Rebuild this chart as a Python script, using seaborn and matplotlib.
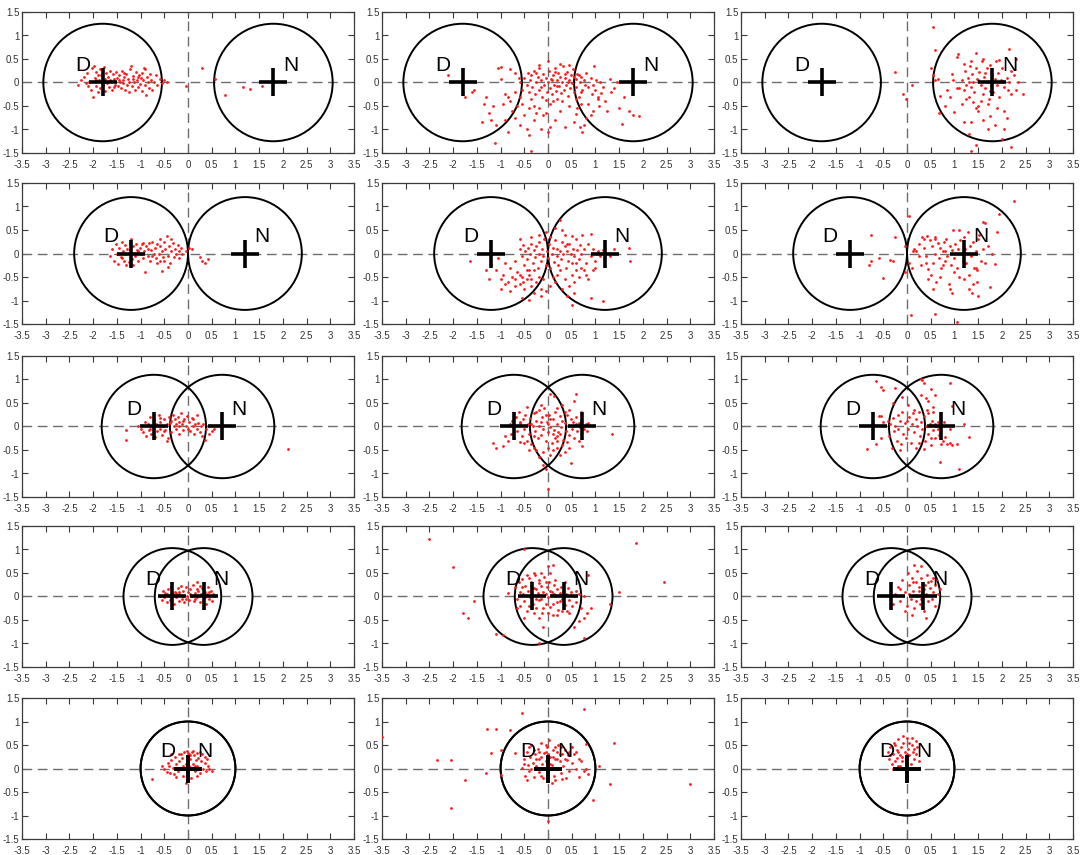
import numpy as np
import matplotlib
matplotlib.use("Agg")
import matplotlib.pyplot as plt
from matplotlib.patches import Circle
import seaborn as sns

# Centre offsets of the D / N classes (D at -offset, N at +offset) and circle radii per row
center_offset = [1.8, 1.2, 0.72, 0.33, 0.0]
circle_radius = [1.25, 1.2, 1.1, 1.03, 1.0]

x_ticks = [-3.5, -3, -2.5, -2, -1.5, -1, -0.5, 0, 0.5, 1, 1.5, 2, 2.5, 3, 3.5]
x_tick_labels = ["-3.5", "-3", "-2.5", "-2", "-1.5", "-1", "-0.5", "0",
                 "0.5", "1", "1.5", "2", "2.5", "3", "3.5"]
y_ticks = [-1.5, -1, -0.5, 0, 0.5, 1, 1.5]
y_tick_labels = ["-1.5", "-1", "-0.5", "0", "0.5", "1", "1.5"]

# Projected samples, one list of (x, y) per panel
pts_r1_c1 = [(-2.32,-0.06),(-2.25,0.05),(-2.2,0.12),(-2.15,-0.02),(-2.12,0.2),(-2.08,0.0),(-2.05,-0.15),
    (-2.02,0.3),(-2.0,-0.31),(-1.98,0.36),(-1.97,0.1),(-1.95,-0.08),(-1.93,0.22),(-1.9,-0.2),(-1.88,0.05),
    (-1.86,0.28),(-1.85,-0.12),(-1.83,0.15),(-1.8,-0.05),(-1.78,0.32),(-1.76,0.08),(-1.74,-0.18),(-1.72,0.2),
    (-1.7,-0.02),(-1.68,0.12),(-1.66,-0.1),(-1.64,0.24),(-1.62,0.04),(-1.6,-0.15),(-1.58,0.18),(-1.56,0.08),
    (-1.54,-0.05),(-1.52,0.22),(-1.5,0.1),(-1.48,-0.08),(-1.46,0.15),(-1.44,0.02),(-1.42,-0.12),(-1.4,0.25),
    (-1.38,0.06),(-1.36,-0.02),(-1.34,0.12),(-1.32,-0.16),(-1.3,0.18),(-1.28,-0.05),(-1.26,0.08),(-1.24,-0.2),
    (-1.22,0.28),(-1.2,0.36),(-1.18,-0.08),(-1.16,0.14),(-1.14,0.0),(-1.12,-0.15),(-1.1,0.22),(-1.08,0.05),
    (-1.06,-0.1),(-1.04,0.16),(-1.02,-0.03),(-1.0,0.1),(-0.98,-0.18),(-0.96,0.2),(-0.94,0.06),(-0.92,0.3),
    (-0.9,0.28),(-0.9,-0.05),(-0.88,-0.27),(-0.86,0.12),(-0.84,0.0),(-0.82,-0.12),(-0.8,0.18),(-0.78,0.05),
    (-0.75,-0.15),(-0.72,0.02),(-0.68,0.15),(-0.65,-0.05),(-0.6,0.08),(-0.55,-0.02),(-0.5,0.05),(-0.45,0.0),
    (-1.9,0.15),(-1.75,0.0),(-1.65,0.05),(-1.55,-0.1),(-1.45,0.05),(-1.35,0.2),(-1.25,0.0),(-1.15,0.08),
    (-1.05,0.12),(-2.1,-0.08),(-1.95,0.05),
    (-0.05,-0.07),(0.3,0.3),(0.57,0.07),(0.78,-0.27),(1.17,-0.1),(1.3,-0.13),(1.55,-0.08)]

pts_r1_c2 = [(-0.5,0.1),(-0.45,-0.05),(-0.42,0.2),(-0.4,-0.2),(-0.38,0.05),(-0.35,0.15),(-0.33,-0.1),
    (-0.3,0.25),(-0.28,-0.25),(-0.25,0.0),(-0.22,0.12),(-0.2,-0.15),(-0.18,0.3),(-0.15,0.05),(-0.12,-0.3),
    (-0.1,0.18),(-0.08,-0.05),(-0.05,0.1),(-0.03,-0.2),(0.0,0.0),(0.02,0.25),(0.04,-0.12),(0.06,0.08),
    (0.08,-0.25),(0.1,0.15),(0.12,-0.05),(0.14,0.3),(0.16,-0.18),(0.18,0.05),(0.2,-0.35),(0.22,0.2),
    (0.24,-0.08),(0.26,0.12),(0.28,-0.22),(0.3,0.02),(0.32,0.35),(0.34,-0.15),(0.36,0.1),(0.38,-0.05),
    (0.4,0.22),(0.42,-0.28),(0.44,0.05),(0.46,-0.12),(0.48,0.15),(0.5,-0.02),(0.52,0.28),(0.55,-0.2),
    (0.58,0.08),(0.6,-0.1),(0.62,0.18),(0.65,-0.3),(0.68,0.0),(0.7,0.12),(0.72,-0.15),(0.75,0.05),
    (0.78,-0.05),(0.8,0.2),(-0.35,-0.35),(-0.2,0.38),(0.0,0.45),(0.1,-0.4),(0.25,0.4),(0.45,0.38),
    (-0.6,0.0),(-0.55,-0.15),(-0.62,0.1),(0.05,-0.45),(0.15,0.22),(-0.05,-0.38),(0.3,-0.4),(0.55,0.12),
    (0.35,0.18),(-0.15,-0.1),(0.18,-0.08),(0.08,0.05),(-0.25,0.2),(0.42,0.02),(0.65,0.15),(0.7,-0.2),
    (0.85,-0.1),(0.9,0.1),(0.92,-0.25),(0.95,-0.05),(0.98,0.35),(1.0,-0.15),(1.02,0.05),(1.05,-0.35),
    (1.08,-0.5),(1.1,0.0),(1.12,-0.22),(1.15,-0.1),(1.2,-0.4),(1.25,-0.6),(1.3,0.08),(1.32,-0.2),
    (1.4,-0.12),(1.45,0.0),(1.5,-0.55),(1.6,-0.3),(1.7,-0.6),(1.8,-0.7),(1.92,-0.72),(1.55,-0.88),
    (0.9,-0.7),(0.8,-0.75),(0.75,-0.9),(0.72,-1.05),(0.68,-0.95),(0.85,-0.45),(0.95,-0.6),(1.05,-0.3),
    (0.62,-0.55),(0.7,-0.45),(0.58,-0.35),(0.6,-0.68),(0.35,-0.95),(0.25,-0.6),(0.15,-0.8),(0.05,-0.95),
    (0.0,-1.05),(-0.05,-0.65),(0.45,-0.5),(0.55,-0.85),
    (-0.55,-0.45),(-0.6,-0.3),(-0.65,-0.5),(-0.7,-0.2),(-0.75,-0.6),(-0.8,-0.4),(-0.85,-0.3),(-0.9,-0.25),
    (-0.95,-0.45),(-1.0,0.08),(-1.05,0.3),(-1.1,-0.9),(-1.15,-0.5),(-1.2,-0.8),(-1.25,-0.65),(-1.3,-0.3),
    (-1.35,-0.45),(-1.4,-0.85),(-1.12,-1.28),(-0.9,-0.8),(-0.85,-1.05),(-0.7,-0.75),(-0.6,-0.9),(-0.5,-0.7),
    (-0.45,-1.0),(-0.4,-1.12),(-0.35,-1.45),(-0.3,-0.8),(-0.2,-0.55),(-0.15,-1.0),(-0.1,-0.7),(-0.4,-0.55),
    (-0.3,-0.5),(-0.25,-0.65),(-1.0,0.32),(-0.8,0.28),(-0.7,0.2),(-1.6,-0.2),(-1.75,-0.3),(-2.1,0.15),
    (-1.55,-0.15)]

pts_r1_c3 = [(-0.25,0.22),(0.1,-0.05),(-0.08,-0.25),(-0.02,-0.35),(0.55,1.18),(0.6,0.7),(0.5,0.3),
    (0.55,0.15),(0.6,0.05),(0.65,0.08),(0.68,-0.65),(0.7,-0.28),(0.8,-0.5),(0.85,-0.15),(0.9,-0.3),
    (0.95,0.18),(1.05,0.55),(1.08,0.6),(1.0,-0.62),(1.2,-0.85),(1.35,-0.85),(1.3,-1.1),(1.35,-1.45),
    (1.45,-1.32),(1.7,-1.0),(1.85,-0.9),(2.0,-1.2),(2.05,-0.6),(2.1,-0.75),(2.2,-1.38),(2.05,-0.98),
    (1.75,-0.72),(2.15,0.72),(2.3,0.5),(2.35,0.02),(2.45,-0.25),(2.2,-0.25),
    (1.1,-0.12),(1.15,0.05),(1.2,-0.15),(1.22,0.25),(1.25,-0.05),(1.28,0.1),(1.3,-0.3),(1.32,0.35),
    (1.35,-0.1),(1.38,0.18),(1.4,0.0),(1.42,-0.2),(1.45,0.3),(1.48,0.08),(1.5,-0.5),(1.52,0.22),
    (1.55,-0.05),(1.58,0.45),(1.6,-0.25),(1.62,0.12),(1.65,-0.12),(1.68,0.3),(1.7,0.02),(1.72,-0.35),
    (1.75,0.38),(1.78,-0.08),(1.8,0.15),(1.82,-0.2),(1.85,0.08),(1.88,0.45),(1.9,-0.05),(1.92,0.2),
    (1.95,-0.3),(1.98,0.05),(2.0,0.3),(2.05,-0.1),(2.1,0.1),(2.12,-0.15),(2.15,0.0),(2.2,0.25),
    (1.45,-0.55),(1.55,-0.4),(1.35,0.45),(1.6,0.5),(1.25,-0.35),(1.4,-0.42),(1.7,-0.45),(1.95,0.48),
    (1.65,0.2),(1.75,-0.18),(1.5,0.05),(1.3,0.0),(1.2,0.4),(1.15,-0.45),(1.05,-0.12),(0.98,0.05),
    (1.45,0.62),(1.9,-0.55),(2.3,-0.15),(1.6,-0.8),(1.5,-0.6),(2.25,0.15)]

pts_r2_c1 = [(-1.65,-0.05),(-1.6,0.1),(-1.55,-0.15),(-1.52,0.2),(-1.5,0.0),(-1.48,-0.22),(-1.45,0.12),
    (-1.42,-0.08),(-1.4,0.25),(-1.38,0.05),(-1.35,-0.15),(-1.32,0.18),(-1.3,-0.02),(-1.28,0.1),(-1.25,-0.18),
    (-1.22,0.22),(-1.2,0.0),(-1.18,-0.12),(-1.15,0.15),(-1.12,-0.05),(-1.1,0.2),(-1.08,0.08),(-1.05,-0.15),
    (-1.02,0.12),(-1.0,-0.02),(-0.98,0.2),(-0.95,-0.1),(-0.92,0.05),(-0.9,-0.4),(-0.88,0.15),(-0.85,-0.05),
    (-0.82,0.22),(-0.8,-0.15),(-0.78,0.08),(-0.75,0.25),(-0.72,-0.02),(-0.7,0.12),(-0.68,-0.1),(-0.65,0.2),
    (-0.62,0.0),(-0.6,-0.15),(-0.58,0.15),(-0.55,0.05),(-0.52,-0.08),(-0.5,0.25),(-0.48,0.1),(-0.45,0.38),
    (-0.42,-0.05),(-0.4,0.15),(-0.38,-0.2),(-0.35,0.05),(-0.32,0.22),(-0.3,-0.08),(-0.28,0.1),(-0.25,0.0),
    (-0.22,0.18),(-0.2,-0.1),(-0.18,0.05),(-0.15,0.12),(-0.12,-0.02),(-0.42,-0.28),(-0.55,-0.38),
    (-0.65,-0.2),(-0.95,0.22),(-1.3,-0.25),(-1.2,0.3),(-0.75,-0.05),(-0.85,0.1),(-1.05,0.05),(-1.4,-0.1),
    (-0.6,0.3),(-0.35,0.3),(-1.15,-0.25),(-0.5,-0.15),
    (-0.05,0.05),(0.02,0.12),(0.08,0.1),(0.25,-0.08),(0.3,-0.15),(0.35,-0.2),(0.42,-0.12)]

pts_r2_c2 = [(-0.6,0.1),(-0.55,-0.05),(-0.52,0.18),(-0.5,-0.25),(-0.48,0.05),(-0.45,-0.12),(-0.42,0.12),
    (-0.4,-0.35),(-0.38,0.0),(-0.35,0.2),(-0.32,-0.2),(-0.3,0.08),(-0.28,-0.08),(-0.25,0.15),(-0.22,-0.3),
    (-0.2,0.0),(-0.18,0.25),(-0.15,-0.15),(-0.12,0.1),(-0.1,-0.05),(-0.08,0.3),(-0.05,-0.25),(-0.02,0.05),
    (0.0,-0.1),(0.02,0.2),(0.05,-0.3),(0.08,0.0),(0.1,0.12),(0.12,-0.18),(0.15,0.28),(0.18,-0.05),
    (0.2,0.1),(0.22,-0.25),(0.25,0.05),(0.28,-0.12),(0.3,0.25),(0.32,-0.02),(0.35,0.15),(0.38,-0.3),
    (0.4,0.05),(0.42,-0.15),(0.45,0.2),(0.48,0.0),(0.5,-0.2),(0.52,0.1),(0.55,-0.05),(0.58,0.3),
    (0.6,-0.35),(0.62,0.08),(0.65,-0.12),(0.68,0.18),(0.7,-0.02),(-0.05,0.45),(0.05,0.35),(0.25,0.72),
    (0.15,0.55),(-0.2,0.4),(-0.35,0.35),(0.35,0.4),(0.5,0.38),(-0.6,0.3),
    (-0.65,-0.4),(-0.7,-0.15),(-0.75,-0.5),(-0.8,-0.3),(-0.85,-0.6),(-0.9,-0.2),(-0.95,-0.45),(-1.0,-0.55),
    (-1.05,-0.1),(-1.1,-0.35),(-1.25,-0.55),(-1.3,-0.35),(-1.2,-0.25),(-1.65,-0.15),(-0.6,-0.65),
    (-0.55,-0.5),(-0.5,-0.75),(-0.45,-0.55),(-0.4,-0.45),(-0.35,-0.7),(-0.3,-0.85),(-0.25,-0.6),(-0.2,-0.5),
    (-0.15,-0.75),(-0.1,-0.55),(-0.3,-0.35),(-0.45,-0.35),(-0.7,-0.7),(-0.8,-0.8),(-0.55,-0.95),(-0.4,-0.98),
    (-0.15,-0.9),(-0.05,-0.8),(-0.6,-0.45),(-0.52,-0.6),(-0.7,-0.55),(-0.35,-0.55),(-0.9,-0.65),(-1.0,-0.75),
    (0.75,0.1),(0.8,-0.2),(0.85,0.2),(0.9,-0.05),(0.95,0.1),(1.0,-0.15),(1.05,0.05),(1.1,-0.05),(1.15,0.08),
    (1.2,0.0),(1.3,-0.05),(1.4,0.1),(0.9,0.42),(1.0,-0.3),(0.95,-0.35),(1.7,0.12),(1.72,-0.15),(0.75,-0.35),
    (0.65,-0.5),(0.55,-0.6),(0.5,-0.45),(0.45,-0.7),(0.35,-0.55),(0.2,-0.45),(0.15,-0.6),(0.1,-0.5),
    (0.05,-0.7),(0.3,-0.75),(0.85,-0.55),(0.9,-0.95),(1.15,-1.0),(0.5,-1.1),(0.55,-0.85),(0.4,-0.9),
    (0.6,-0.2),(0.7,-0.3),(0.25,-0.35),(0.8,-0.45),(0.72,0.4),(0.3,0.5),(0.4,0.2)]

pts_r2_c3 = [(-0.8,-0.25),(-0.75,0.4),(-0.75,-0.15),(-0.6,-0.1),(-0.5,-0.52),(-0.35,-0.13),(-0.3,-0.15),
    (-0.25,0.35),(-0.05,0.15),(-0.05,-0.4),(0.05,0.8),(0.05,-0.2),(0.08,-1.3),(0.1,-0.3),(0.12,0.05),
    (0.15,0.1),(2.25,1.12),(1.95,0.85),(1.65,0.65),(1.6,0.68),(1.9,0.45),(1.05,-1.45),(0.6,-1.28),
    (1.85,-0.22),(1.8,-0.02),
    (0.2,0.05),(0.25,0.2),(0.3,-0.25),(0.32,0.35),(0.35,0.12),(0.4,-0.05),(0.42,0.38),(0.45,-0.32),
    (0.48,0.28),(0.5,-0.45),(0.52,0.15),(0.55,-0.2),(0.58,0.35),(0.6,0.0),(0.62,-0.6),(0.65,0.22),
    (0.68,-0.1),(0.7,0.12),(0.72,-0.3),(0.75,0.05),(0.78,0.25),(0.8,-0.15),(0.82,0.3),(0.85,-0.05),
    (0.88,-0.65),(0.9,0.15),(0.92,-0.25),(0.95,0.08),(0.98,0.5),(1.0,-0.1),(1.02,0.2),(1.05,-0.3),
    (1.08,0.1),(1.1,-0.5),(1.12,0.28),(1.15,0.0),(1.18,-0.15),(1.2,0.35),(1.22,0.1),(1.25,-0.2),
    (1.28,0.45),(1.3,-0.45),(1.32,0.15),(1.35,-0.05),(1.38,-0.85),(1.4,0.25),(1.42,-0.3),(1.45,0.05),
    (1.48,-0.6),(1.5,0.3),(1.52,0.4),(1.55,-0.15),(1.6,0.1),(1.65,-0.2),(1.7,0.15),(1.75,-0.72),
    (1.5,-0.9),(1.3,-0.75),(1.4,-0.65),(0.95,-0.85),(0.9,-0.75),(0.7,-0.5),(0.55,-0.75),(0.45,-0.55),
    (0.75,-0.25),(1.0,-0.4),(1.2,-0.55),(0.6,0.3),(0.8,0.05),(1.1,0.5),(0.35,0.3),(0.25,-0.05),
    (0.4,-0.2),(1.45,-0.3),(1.48,-0.35)]

pts_r3_c1 = [(-1.3,-0.28),(-1.3,-0.07),(-1.05,0.0),(-1.0,-0.05),(-0.95,-0.12),(-0.9,0.1),(-0.88,-0.2),
    (-0.85,0.05),(-0.82,-0.08),(-0.8,0.2),(-0.78,-0.15),(-0.75,0.0),(-0.72,0.15),(-0.7,-0.22),(-0.68,0.05),
    (-0.65,-0.1),(-0.62,0.25),(-0.6,-0.05),(-0.58,0.1),(-0.55,-0.18),(-0.52,0.0),(-0.5,0.15),(-0.48,-0.08),
    (-0.45,0.05),(-0.42,-0.25),(-0.4,0.2),(-0.38,0.08),(-0.35,-0.12),(-0.32,0.25),(-0.3,0.0),(-0.28,0.15),
    (-0.25,-0.05),(-0.22,0.2),(-0.2,0.1),(-0.18,-0.15),(-0.15,0.28),(-0.12,0.05),(-0.1,-0.08),(-0.08,0.15),
    (-0.05,0.0),(-0.02,0.22),(0.0,-0.05),(0.02,0.1),(0.05,-0.1),(0.08,0.18),(0.1,0.0),(0.12,-0.15),
    (0.15,0.05),(0.18,0.25),(0.2,-0.05),(0.22,0.08),(0.25,-0.12),(0.28,0.02),(0.3,-0.2),(0.32,0.05),
    (0.35,-0.28),(0.38,-0.05),(0.42,0.0),(0.45,-0.15),(0.5,-0.1),(0.55,-0.05),(-0.45,-0.3),(-0.6,0.18),
    (-0.25,0.05),(-0.1,0.12),(0.1,0.15),(-0.35,0.12),(-0.18,0.02),(-0.8,-0.05),(-0.5,-0.1),(2.1,-0.48)]

pts_r3_c2 = [(-1.15,-0.35),(-1.1,-0.45),(-0.95,-0.42),(-0.9,-0.2),(-0.85,-0.3),(-0.8,0.05),(-0.78,-0.15),
    (-0.75,0.12),(-0.72,-0.25),(-0.7,0.0),(-0.68,0.2),(-0.65,-0.1),(-0.62,0.3),(-0.6,-0.32),(-0.58,0.08),
    (-0.55,-0.2),(-0.52,0.15),(-0.5,-0.05),(-0.48,0.25),(-0.45,-0.3),(-0.42,0.05),(-0.4,-0.15),(-0.38,0.18),
    (-0.35,-0.38),(-0.32,0.0),(-0.3,0.28),(-0.28,-0.1),(-0.25,0.12),(-0.22,-0.25),(-0.2,0.35),(-0.18,0.02),
    (-0.15,-0.18),(-0.12,0.2),(-0.1,-0.05),(-0.08,0.4),(-0.05,-0.3),(-0.02,0.1),(0.0,-0.12),(0.02,0.25),
    (0.05,-0.02),(0.08,-0.35),(0.1,0.15),(0.12,-0.08),(0.15,0.3),(0.18,-0.2),(0.2,0.05),(0.22,-0.12),
    (0.25,0.22),(0.28,-0.02),(0.3,0.12),(0.32,-0.28),(0.35,0.08),(0.38,-0.1),(0.4,0.25),(0.42,0.0),
    (0.45,-0.18),(0.48,0.15),(0.5,-0.05),(0.52,0.1),(0.55,-0.25),(0.58,0.05),(0.6,0.2),(0.62,-0.1),
    (0.65,0.08),(0.68,-0.02),(0.7,0.12),(0.75,-0.05),(0.8,0.05),(0.82,-0.1),(0.85,0.08),(1.35,-0.15),
    (0.72,-0.42),(0.55,0.55),(0.12,0.65),(0.05,0.7),(0.6,0.7),(0.3,0.45),(-0.15,0.45),(-0.45,0.42),
    (-0.25,-0.5),(-0.2,-0.65),(-0.1,-0.55),(0.0,-0.45),(0.05,-0.6),(0.1,-0.5),(0.2,-0.45),(0.25,-0.6),
    (0.3,-0.4),(0.35,-0.55),(0.45,-0.45),(0.48,-0.78),(-0.05,-0.9),(-0.1,-0.82),(0.0,-1.32),(-0.3,-0.45),
    (-0.4,-0.5),(0.4,-0.32),(-0.5,-0.35),(0.15,-0.25),(-0.35,0.05),(-0.15,0.1),(0.05,0.15),(0.25,-0.15),
    (0.35,0.3),(-0.05,0.25),(0.18,0.4),(-0.3,-0.2),(0.1,-0.15),(0.45,0.35),(-0.6,0.1),(0.65,-0.3),
    (0.7,0.3),(-0.25,0.3),(0.0,0.05),(0.2,-0.3)]

pts_r3_c3 = [(-0.85,-0.47),(-0.65,0.97),(-0.55,0.85),(-0.5,0.78),(-0.65,-0.38),(-0.6,0.22),(-0.55,0.22),
    (-0.5,0.1),(-0.55,-0.25),(-0.25,0.82),(-0.3,0.5),(-0.1,0.62),(0.3,1.0),(0.32,0.98),(0.35,0.92),
    (0.5,0.8),(0.6,0.68),(0.45,0.55),(0.55,0.42),(0.9,0.92),(0.95,0.43),(1.3,-0.22),(1.1,-0.9),
    (0.7,-0.75),(0.9,-0.35),
    (-0.4,0.12),(-0.38,-0.2),(-0.35,0.05),(-0.32,-0.45),(-0.3,0.18),(-0.28,-0.1),(-0.25,0.0),(-0.22,-0.3),
    (-0.2,0.25),(-0.18,-0.05),(-0.15,0.12),(-0.12,-0.38),(-0.1,0.3),(-0.08,-0.15),(-0.05,0.08),(-0.02,-0.25),
    (0.0,0.12),(0.02,-0.05),(0.05,0.2),(0.08,-0.35),(0.1,0.05),(0.12,0.28),(0.15,-0.12),(0.18,0.15),
    (0.2,-0.45),(0.22,0.02),(0.25,0.3),(0.28,-0.2),(0.3,0.1),(0.32,-0.05),(0.35,0.22),(0.38,-0.3),
    (0.4,0.0),(0.42,0.35),(0.45,-0.15),(0.48,0.05),(0.5,-0.4),(0.52,0.12),(0.55,-0.08),(0.58,0.02),
    (0.6,-0.25),(0.62,0.0),(0.65,-0.05),(0.68,-0.18),(0.7,0.08),(0.72,-0.38),(0.75,-0.3),(0.78,0.1),
    (0.8,-0.22),(0.85,-0.38),(0.9,-0.05),(0.95,-0.4),(1.05,-0.38),(1.2,0.05),(0.6,0.05),(0.65,0.1),
    (0.55,0.3),(0.45,0.28),(0.15,0.35),(-0.15,-0.5),(0.02,0.45),(0.35,-0.48),(0.25,-0.35),(0.5,-0.25),
    (0.4,0.6),(0.3,0.68)]

pts_r4_c1 = [(-0.6,0.02),(-0.55,-0.08),(-0.52,0.12),(-0.5,-0.02),(-0.48,0.08),(-0.45,-0.12),(-0.42,0.15),
    (-0.4,0.0),(-0.38,-0.08),(-0.35,0.2),(-0.32,0.05),(-0.3,-0.15),(-0.28,0.1),(-0.25,-0.02),(-0.22,0.18),
    (-0.2,-0.1),(-0.18,0.06),(-0.15,0.22),(-0.12,-0.05),(-0.1,0.12),(-0.08,-0.12),(-0.05,0.2),(-0.02,0.02),
    (0.0,0.1),(0.02,-0.08),(0.05,0.15),(0.08,0.0),(0.1,0.25),(0.12,-0.1),(0.15,0.08),(0.18,0.3),
    (0.2,-0.02),(0.22,0.12),(0.25,-0.12),(0.28,0.05),(0.3,0.18),(0.32,-0.08),(0.35,0.1),(0.38,-0.15),
    (0.4,0.05),(0.42,0.2),(0.45,-0.05),(0.48,0.12),(0.5,-0.1),(0.52,0.05),(0.55,0.0),(-0.35,-0.05),
    (-0.2,0.1),(-0.05,-0.05),(0.15,-0.05),(0.25,0.22),(0.35,-0.02),(-0.45,0.05),(0.05,0.05),(-0.25,0.08),
    (0.45,0.1),(0.2,0.15),(-0.1,0.02)]

pts_r4_c2 = [(-2.5,1.23),(-2.0,0.63),(-1.55,-0.1),(-1.8,-0.35),(-1.68,-0.45),(-1.1,-0.8),(-0.95,-0.82),
    (-0.5,1.02),(-0.85,0.08),(-0.2,-1.0),(0.1,0.68),(0.0,0.65),(1.85,1.13),(2.45,0.3),(1.5,0.1),
    (1.3,-0.15),(0.85,0.45),(0.9,-0.25),(0.82,-0.35),(0.75,-0.45),(0.65,-0.52),(0.75,-0.88),(0.55,-0.65),
    (-0.1,-0.65),(-0.5,-0.45),
    (-0.7,0.2),(-0.65,-0.05),(-0.62,0.3),(-0.6,0.1),(-0.58,-0.2),(-0.55,0.38),(-0.52,0.05),(-0.5,-0.1),
    (-0.48,0.22),(-0.45,-0.3),(-0.42,0.12),(-0.4,0.4),(-0.38,-0.02),(-0.35,0.3),(-0.32,-0.15),(-0.3,0.18),
    (-0.28,0.45),(-0.25,-0.25),(-0.22,0.08),(-0.2,0.35),(-0.18,-0.08),(-0.15,0.22),(-0.12,-0.35),(-0.1,0.1),
    (-0.08,0.42),(-0.05,-0.15),(-0.02,0.2),(0.0,-0.02),(0.02,0.3),(0.05,-0.22),(0.08,0.1),(0.1,-0.4),
    (0.12,0.25),(0.15,0.0),(0.18,-0.12),(0.2,0.15),(0.22,-0.28),(0.25,0.08),(0.28,0.2),(0.3,-0.05),
    (0.32,0.12),(0.35,-0.18),(0.38,0.05),(0.4,-0.3),(0.42,0.18),(0.45,-0.08),(0.48,0.1),(0.5,-0.2),
    (0.55,0.02),(0.6,-0.12),(0.65,0.05),(0.7,-0.25),(0.75,0.0),(-0.35,0.0),(-0.25,0.15),(-0.15,-0.05),
    (-0.05,0.05),(0.05,0.12),(0.15,0.35),(0.25,-0.1),(-0.3,-0.35),(-0.2,-0.45),(-0.1,-0.25),(0.0,-0.35),
    (0.1,-0.15),(-0.4,-0.2),(-0.45,0.45),(-0.3,0.5),(-0.15,0.5),(0.05,0.5),(-0.55,0.2),(0.2,-0.4),
    (0.3,-0.3),(0.45,-0.35),(-0.65,-0.25),(-0.05,0.3),(-0.35,0.22),(0.35,0.3),(-0.25,-0.05),(0.12,0.05),
    (-0.18,0.28),(0.6,0.12)]

pts_r4_c3 = [(-0.25,0.05),(-0.2,0.2),(-0.15,-0.1),(-0.1,0.35),(-0.05,0.1),(0.0,-0.2),(0.02,0.5),
    (0.05,0.25),(0.08,-0.05),(0.1,0.4),(0.12,0.12),(0.15,-0.25),(0.18,0.3),(0.2,0.0),(0.22,0.55),
    (0.25,0.2),(0.28,-0.15),(0.3,0.4),(0.32,0.08),(0.35,-0.3),(0.38,0.25),(0.4,0.05),(0.42,0.45),
    (0.45,-0.1),(0.48,0.18),(0.5,0.32),(0.52,-0.05),(0.55,0.1),(0.58,0.25),(0.6,-0.2),(0.65,0.05),
    (0.7,0.15),(0.15,0.68),(0.3,0.65),(-0.05,-0.3),(0.1,-0.4),(0.4,-0.45),(0.25,0.12),(0.12,0.3),
    (0.35,0.15),(-0.15,0.15),(0.05,0.05),(0.45,0.3),(0.2,-0.1),(0.55,0.4),(-0.3,-0.15),(0.62,0.35),
    (0.3,-0.05)]

pts_r5_c1 = [(-0.75,-0.22),(-0.55,0.05),(-0.5,0.0),(-0.45,-0.08),(-0.42,0.12),(-0.4,0.05),(-0.38,-0.1),
    (-0.35,0.18),(-0.32,0.02),(-0.3,-0.12),(-0.28,0.25),(-0.25,0.1),(-0.22,-0.05),(-0.2,0.3),(-0.18,0.15),
    (-0.15,0.0),(-0.12,0.22),(-0.1,-0.15),(-0.08,0.35),(-0.05,0.1),(-0.03,0.38),(-0.02,0.25),(0.0,0.32),
    (0.02,0.05),(0.03,0.3),(0.05,0.2),(0.06,-0.2),(0.08,0.35),(0.1,0.1),(0.12,0.28),(0.14,-0.05),
    (0.16,0.18),(0.18,0.32),(0.2,0.05),(0.22,0.22),(0.25,-0.1),(0.28,0.15),(0.3,0.3),(0.32,0.0),
    (0.35,0.12),(0.38,-0.05),(0.4,0.2),(0.42,0.05),(0.45,-0.02),(0.5,-0.05),(-0.05,-0.3),(0.0,-0.22),
    (-0.15,0.3),(0.1,0.38),(-0.02,0.15),(0.15,0.05),(-0.25,-0.18),(0.2,-0.15),(-0.35,0.3),(0.25,0.35),
    (-0.1,0.05),(0.05,0.28),(0.35,0.25)]

pts_r5_c2 = [(-3.5,0.68),(-2.35,0.18),(-2.05,0.18),(-2.05,-0.83),(-1.75,-0.25),(-1.3,-0.1),(-1.28,0.83),
    (-1.1,0.85),(-0.8,0.82),(-1.2,0.32),(-1.0,0.4),(-1.0,-0.13),(-0.7,0.32),(-0.55,1.18),(-0.5,0.1),
    (0.75,1.27),(0.8,0.52),(1.4,0.55),(1.08,0.05),(1.3,-0.32),(0.95,-0.67),(3.0,-0.32),(0.0,-1.12),
    (0.8,0.0),(0.85,-0.12),(0.65,-0.18),
    (-0.55,0.02),(-0.5,0.2),(-0.48,-0.15),(-0.45,0.35),(-0.42,0.08),(-0.4,-0.05),(-0.38,0.25),(-0.35,0.5),
    (-0.32,0.12),(-0.3,-0.18),(-0.28,0.3),(-0.25,0.05),(-0.22,0.42),(-0.2,-0.08),(-0.18,0.2),(-0.15,0.55),
    (-0.12,0.1),(-0.1,-0.2),(-0.08,0.32),(-0.05,0.15),(-0.02,0.45),(0.0,-0.05),(0.02,0.6),(0.05,0.25),
    (0.08,0.08),(0.1,0.4),(0.12,-0.15),(0.15,0.2),(0.18,0.35),(0.2,0.0),(0.22,0.5),(0.25,0.15),
    (0.28,-0.1),(0.3,0.3),(0.32,0.05),(0.35,0.4),(0.38,-0.2),(0.4,0.18),(0.42,0.28),(0.45,-0.05),
    (0.5,0.12),(0.55,0.3),(0.6,0.0),(0.65,0.2),(0.7,0.15),(0.75,-0.05),(-0.15,0.25),(-0.05,0.35),
    (0.05,0.1),(0.15,0.45),(-0.25,0.2),(-0.35,0.0),(0.25,0.3),(-0.1,0.0),(0.0,0.2),(0.1,0.25),(0.2,0.2),
    (-0.2,0.35),(0.3,-0.22),(0.35,0.2),(-0.4,0.45),(0.45,0.35),(0.15,-0.25),(-0.15,-0.15),(0.28,0.45),
    (-0.3,0.4),(0.0,0.3),(0.08,-0.3),(-0.05,0.5),(0.5,0.45),(0.6,0.35),(-0.45,-0.25)]

pts_r5_c3 = [(-0.4,0.35),(-0.38,0.2),(-0.35,0.45),(-0.32,0.1),(-0.3,0.3),(-0.28,0.55),(-0.25,0.15),
    (-0.22,0.4),(-0.2,0.05),(-0.18,0.62),(-0.15,0.28),(-0.12,0.45),(-0.1,0.15),(-0.08,0.55),(-0.05,0.35),
    (-0.02,0.2),(0.0,0.65),(0.02,0.42),(0.05,0.28),(0.08,0.1),(0.1,0.5),(0.12,0.35),(0.15,0.2),
    (0.18,0.58),(0.2,0.3),(0.22,0.45),(-0.25,0.5),(-0.15,0.05),(0.05,0.55),(-0.3,0.0),(-0.05,0.0),
    (0.0,0.3),(-0.2,0.35),(0.15,0.42),(-0.1,0.25),(-0.35,0.28),(0.25,0.15),(-0.08,0.7),(0.1,0.65),
    (-0.22,0.22)]

panel_points = [
    [pts_r1_c1, pts_r1_c2, pts_r1_c3],
    [pts_r2_c1, pts_r2_c2, pts_r2_c3],
    [pts_r3_c1, pts_r3_c2, pts_r3_c3],
    [pts_r4_c1, pts_r4_c2, pts_r4_c3],
    [pts_r5_c1, pts_r5_c2, pts_r5_c3],
]

sns.set_theme(style="white")
plt.rcParams["font.family"] = ["Liberation Sans", "DejaVu Sans"]

W, H = 1083, 855
fig = plt.figure(figsize=(W / 100, H / 100), dpi=100)

col_left = [22, 382, 741]
row_top = [12, 183, 356, 526, 698]
ax_w, ax_h = 332, 141

frame_color = "#3a3a3a"

for r in range(5):
    d = center_offset[r]
    rad = circle_radius[r]
    for c in range(3):
        ax = fig.add_axes([col_left[c] / W, 1 - (row_top[r] + ax_h) / H, ax_w / W, ax_h / H])
        pts = np.array(panel_points[r][c])

        ax.axhline(0, color="#6e6e6e", lw=1.0, dashes=(7, 4), zorder=1)
        ax.axvline(0, color="#6e6e6e", lw=1.0, dashes=(7, 4), zorder=1)

        for cx in (-d, d):
            ax.add_patch(Circle((cx, 0), rad, fill=False, ec="black", lw=1.4, zorder=2))

        sns.scatterplot(x=pts[:, 0], y=pts[:, 1], ax=ax, color="#ff1a1a", s=4,
                        linewidth=0, marker="o", legend=False, zorder=3)

        ax.plot([-d, d], [0, 0], linestyle="none", marker="+", ms=20, mew=2.6,
                color="black", zorder=4)

        ax.text(-d - 0.42, 0.37, "D", fontsize=15, color="black",
                ha="center", va="center", zorder=5)
        ax.text(d + 0.36, 0.37, "N", fontsize=15, color="black",
                ha="center", va="center", zorder=5)

        ax.set_xlim(-3.5, 3.5)
        ax.set_ylim(-1.5, 1.5)
        ax.set_xticks(x_ticks)
        ax.set_xticklabels(x_tick_labels)
        ax.set_yticks(y_ticks)
        ax.set_yticklabels(y_tick_labels)
        ax.tick_params(direction="in", length=4, width=0.8, color=frame_color,
                       top=True, right=True, bottom=True, left=True,
                       labelsize=7, labelcolor="#333333")
        ax.tick_params(axis="x", pad=5)
        ax.tick_params(axis="y", pad=2)
        for sp in ax.spines.values():
            sp.set_color(frame_color)
            sp.set_linewidth(0.9)

fig.savefig("out.png", dpi=100, facecolor="white")
